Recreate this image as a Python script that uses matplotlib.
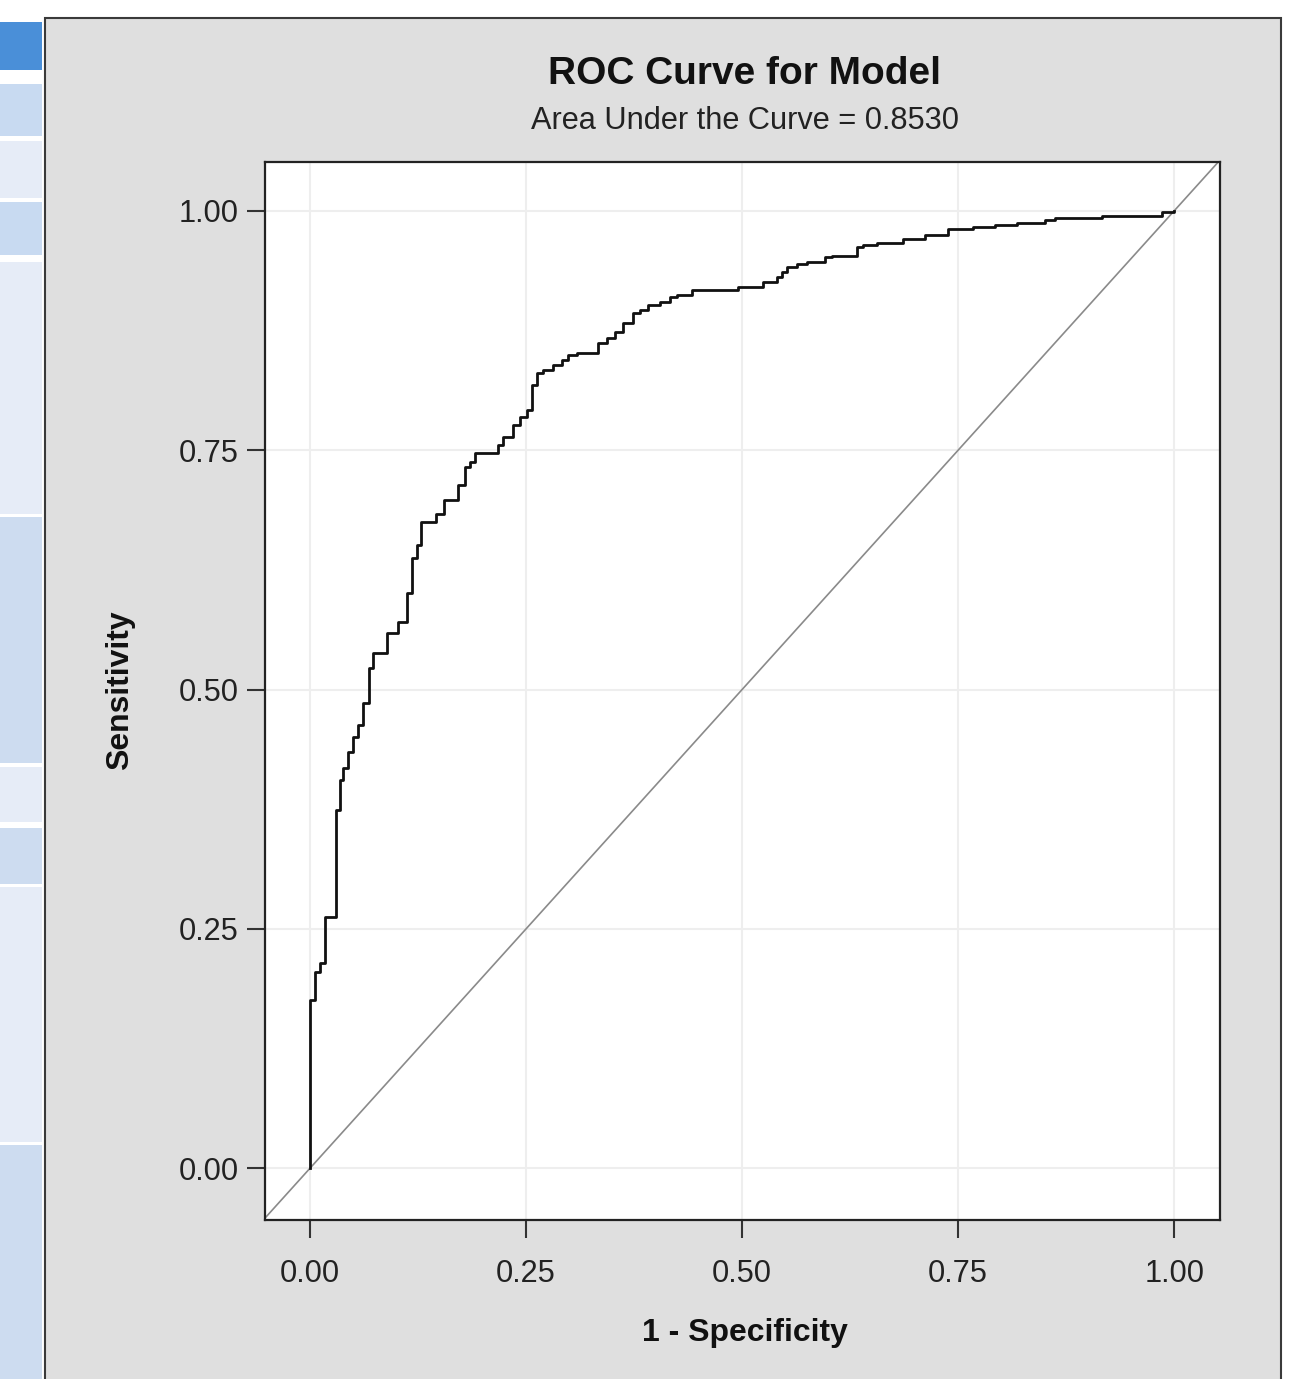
import numpy as np
import matplotlib
matplotlib.use("Agg")
import matplotlib.pyplot as plt
from matplotlib.patches import Rectangle
from matplotlib import font_manager

fpr = [0.0, 0.0, 0.0058, 0.0116, 0.0174, 0.0297, 0.0347, 0.0382, 0.0440, 0.0498,
       0.0556, 0.0613, 0.0683, 0.0729, 0.0891, 0.1019, 0.1123, 0.1181, 0.1238, 0.1285,
       0.1458, 0.1551, 0.1713, 0.1794, 0.1852, 0.1910, 0.2176, 0.2234, 0.2350, 0.2431,
       0.2512, 0.2569, 0.2627, 0.2697, 0.2813, 0.2917, 0.2986, 0.3090, 0.3333, 0.3438,
       0.3530, 0.3623, 0.3738, 0.3819, 0.3912, 0.4051, 0.4167, 0.4248, 0.4421, 0.4954,
       0.5243, 0.5405, 0.5463, 0.5521, 0.5637, 0.5752, 0.5961, 0.6042, 0.6331, 0.6400,
       0.6563, 0.6863, 0.7118, 0.7384, 0.7674, 0.7928, 0.8183, 0.8507, 0.8623, 0.9167,
       0.9861, 1.0]
tpr = [0.0, 0.1755, 0.2048, 0.2142, 0.2623, 0.3741, 0.4054, 0.4180, 0.4347, 0.4504,
       0.4629, 0.4859, 0.5225, 0.5381, 0.5590, 0.5705, 0.6008, 0.6374, 0.6510, 0.6750,
       0.6834, 0.6980, 0.7137, 0.7325, 0.7377, 0.7471, 0.7555, 0.7638, 0.7764, 0.7847,
       0.7921, 0.8182, 0.8307, 0.8339, 0.8391, 0.8443, 0.8495, 0.8516, 0.8621, 0.8673,
       0.8736, 0.8830, 0.8934, 0.8966, 0.9018, 0.9049, 0.9101, 0.9122, 0.9175, 0.9206,
       0.9258, 0.9310, 0.9363, 0.9415, 0.9446, 0.9467, 0.9519, 0.9530, 0.9624, 0.9645,
       0.9666, 0.9707, 0.9749, 0.9812, 0.9833, 0.9854, 0.9875, 0.9906, 0.9927, 0.9948,
       0.9990, 1.0]
ticks = [0.0, 0.25, 0.5, 0.75, 1.0]
tick_labels = ["0.00", "0.25", "0.50", "0.75", "1.00"]
auc = 0.8530

# fonte estreita se existir
nomes = {f.name for f in font_manager.fontManager.ttflist}
estreita = "Liberation Sans Narrow" if "Liberation Sans Narrow" in nomes else "Liberation Sans"
escala = 1.0 if estreita == "Liberation Sans Narrow" else 0.82

W, H = 1298, 1379
fig = plt.figure(figsize=(W / 100, H / 100), dpi=100)
fig.patch.set_facecolor("white")

def caixa(x0, y0, x1, y1, **kw):
    # retangulo em pixels da figura (origem no topo), atras dos eixos
    r = Rectangle((x0 / W, 1 - y1 / H), (x1 - x0) / W, (y1 - y0) / H,
                  transform=fig.transFigure, zorder=-5, **kw)
    fig.add_artist(r)

# faixa azul da esquerda (interface)
faixas = [(22, 70, "#4a8fd8"), (84, 136, "#c8daf1"), (141, 198, "#e6ecf7"),
          (202, 255, "#c8daf1"), (262, 514, "#e6ecf7"), (517, 763, "#cddcf0"),
          (767, 822, "#e6ecf7"), (828, 884, "#cddcf0"), (887, 1142, "#e6ecf7"),
          (1145, 1379, "#cddcf0")]
for y0, y1, c in faixas:
    caixa(0, y0, 42, y1, color=c, lw=0)

# painel cinza
caixa(45, 18, 1281, 1385, facecolor="#dfdfdf", edgecolor="#3a3a3a", lw=1.5)

ax = fig.add_axes([265 / W, 1 - 1220 / H, (1220 - 265) / W, (1220 - 162) / H])
ax.set_facecolor("white")
ax.set_xlim(-0.052, 1.053)
ax.set_ylim(-0.054, 1.051)

ax.grid(True, color="#eeeeee", lw=1.5)
ax.set_axisbelow(True)

ax.plot([-0.1, 1.1], [-0.1, 1.1], color="#8a8a8a", lw=1.2)
ax.step(fpr, tpr, where="post", color="#111111", lw=2.0)

ax.set_xticks(ticks)
ax.set_yticks(ticks)
ax.set_xticklabels(tick_labels, family=estreita, fontsize=27 * escala, color="#222222")
ax.set_yticklabels(tick_labels, family=estreita, fontsize=27 * escala, color="#222222")
ax.tick_params(axis="x", length=13, width=1.5, color="#333333", pad=15)
ax.tick_params(axis="y", length=13, width=1.5, color="#333333", pad=6)
for s in ax.spines.values():
    s.set_color("#222222")
    s.set_linewidth(1.6)

fig.text(745 / W, 1 - 74 / H, "ROC Curve for Model", ha="center", va="center",
         family="Liberation Sans", weight="bold", fontsize=28, color="#111111")
fig.text(745 / W, 1 - 121 / H, "Area Under the Curve = %.4f" % auc, ha="center", va="center",
         family=estreita, fontsize=27 * escala, color="#222222")
fig.text(745 / W, 1 - 1333 / H, "1 - Specificity", ha="center", va="center",
         family=estreita, weight="bold", fontsize=28 * escala, color="#111111")
fig.text(120 / W, 1 - 690 / H, "Sensitivity", ha="center", va="center", rotation=90,
         family=estreita, weight="bold", fontsize=28 * escala, color="#111111")

fig.savefig("out.png", dpi=100)
